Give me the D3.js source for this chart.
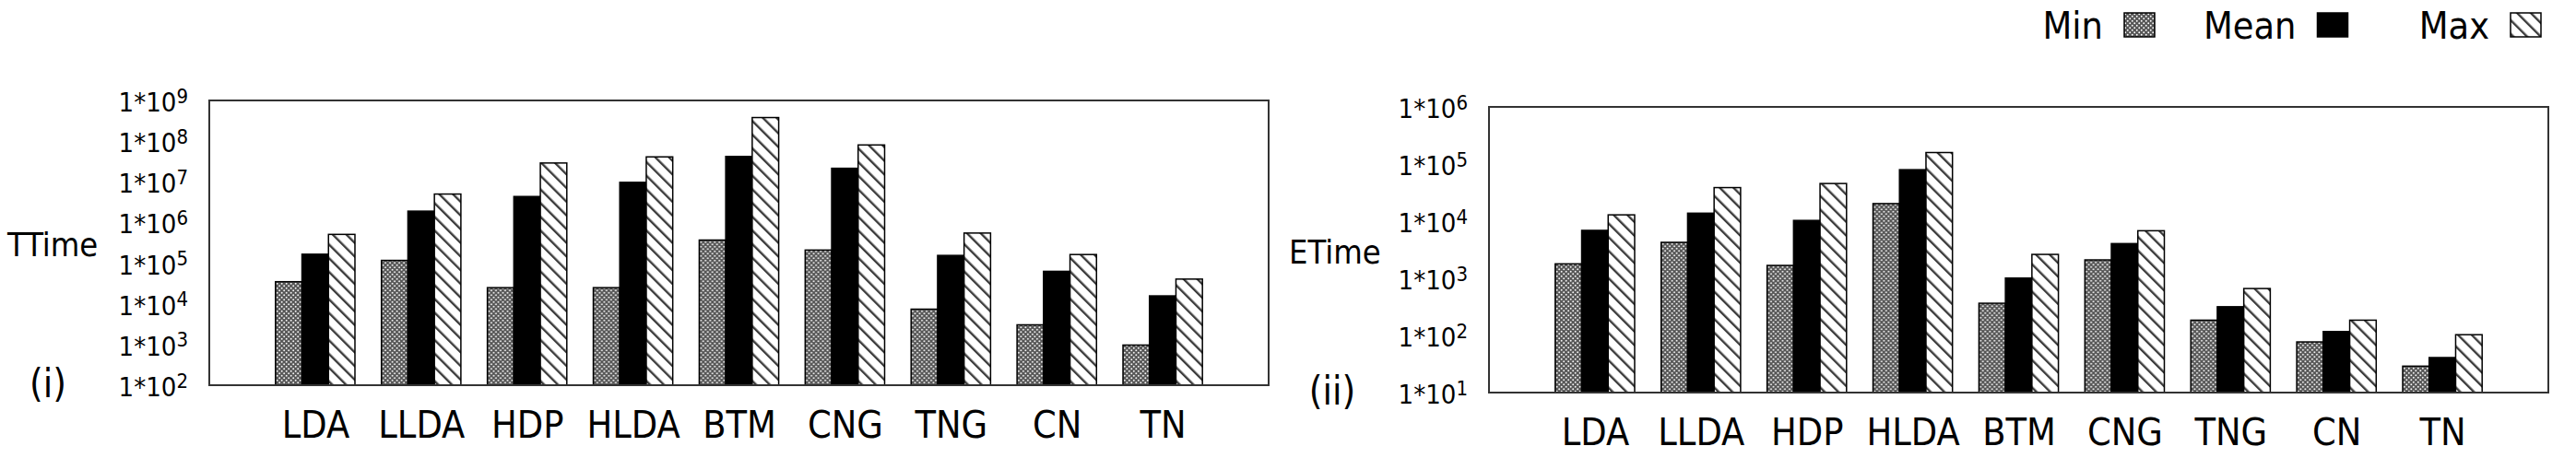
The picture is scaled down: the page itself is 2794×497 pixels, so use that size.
<!DOCTYPE html>
<html>
<head>
<meta charset="utf-8">
<script src="https://cdn.jsdelivr.net/npm/d3@7"></script>
<style>
  html, body { margin: 0; padding: 0; background: #fff; }
  svg { display: block; }
  text { font-family: "DejaVu Sans Condensed", "DejaVu Sans", sans-serif; font-stretch: condensed; fill: #000; }
</style>
</head>
<body>
<script>
// ======================
// DATA
// ======================

const models = ["LDA", "LLDA", "HDP", "HLDA", "BTM", "CNG", "TNG", "CN", "TN"];
const seriesNames = ["Min", "Mean", "Max"];

// (i) training time
const trainMin  = [3.5e4, 1.17e5, 2.5e4, 2.5e4, 3.7e5, 2.1e5, 7.4e3, 3.05e3, 970];
const trainMean = [1.66e5, 1.9e6, 4.35e6, 9.7e6, 4.2e7, 2.15e7, 1.55e5, 6.3e4, 1.57e4];
const trainMax  = [5.1e5, 5.0e6, 2.9e7, 4.1e7, 3.8e8, 8.05e7, 5.5e5, 1.63e5, 4.06e4];
const trainTicks = [1e2, 1e3, 1e4, 1e5, 1e6, 1e7, 1e8, 1e9];

// (ii) evaluation time
const evalMin  = [1790, 4260, 1680, 20300, 366, 2100, 185, 77, 29];
const evalMean = [6900, 13800, 10300, 79600, 1010, 4050, 318, 117, 41];
const evalMax  = [12900, 38700, 45600, 159000, 2620, 6800, 662, 185, 103];
const evalTicks = [1e1, 1e2, 1e3, 1e4, 1e5, 1e6];

// ======================
// SVG + PATTERNS
// ======================

const W = 2794, H = 497;
const svg = d3.select("body").append("svg")
    .attr("width", W)
    .attr("height", H);

svg.append("rect").attr("width", W).attr("height", H).attr("fill", "#fff");

const defs = svg.append("defs");

// stipple for Min: dark grid with offset white dots
const dots = defs.append("pattern")
    .attr("id", "pat-min")
    .attr("patternUnits", "userSpaceOnUse")
    .attr("width", 5)
    .attr("height", 5);
dots.append("rect").attr("width", 5).attr("height", 5).attr("fill", "#555");
dots.append("circle").attr("cx", 1.25).attr("cy", 1.25).attr("r", 0.95).attr("fill", "#fff");
dots.append("circle").attr("cx", 3.75).attr("cy", 3.75).attr("r", 0.95).attr("fill", "#fff");

// "\" hatch for Max
const hatch = defs.append("pattern")
    .attr("id", "pat-max")
    .attr("patternUnits", "userSpaceOnUse")
    .attr("width", 10.5)
    .attr("height", 10.5)
    .attr("patternTransform", "rotate(-45)");
hatch.append("rect").attr("width", 10.5).attr("height", 10.5).attr("fill", "#fff");
hatch.append("line")
    .attr("x1", 5).attr("y1", 0).attr("x2", 5).attr("y2", 10.5)
    .attr("stroke", "#3a3a3a").attr("stroke-width", 2.4);

const fills = { Min: "url(#pat-min)", Mean: "#000", Max: "url(#pat-max)" };

// ======================
// PANEL
// ======================

function drawPanel(cfg) {
    const g = svg.append("g")
        .attr("transform", `translate(${cfg.left},${cfg.top})`);

    const x = d3.scalePoint()
        .domain(models)
        .range([0, cfg.width])
        .padding(1);

    const y = d3.scaleLog()
        .domain([cfg.ticks[0], cfg.ticks[cfg.ticks.length - 1]])
        .range([cfg.height, 0]);

    const bw = x.step() * 0.25;
    const xInner = d3.scaleBand()
        .domain(seriesNames)
        .range([-1.5 * bw, 1.5 * bw]);

    const rows = models.map((m, i) => ({
        model: m,
        values: [
            { key: "Min", value: cfg.min[i] },
            { key: "Mean", value: cfg.mean[i] },
            { key: "Max", value: cfg.max[i] }
        ]
    }));

    const groups = g.selectAll("g.group")
        .data(rows)
        .enter().append("g")
        .attr("class", "group")
        .attr("transform", d => `translate(${x(d.model)},0)`);

    groups.selectAll("rect")
        .data(d => d.values)
        .enter().append("rect")
        .attr("x", d => xInner(d.key))
        .attr("y", d => y(d.value))
        .attr("width", xInner.bandwidth())
        .attr("height", d => cfg.height - y(d.value))
        .attr("fill", d => fills[d.key])
        .attr("stroke", "#000")
        .attr("stroke-width", 1.5);

    // frame
    g.append("rect")
        .attr("width", cfg.width)
        .attr("height", cfg.height)
        .attr("fill", "none")
        .attr("stroke", "#333")
        .attr("stroke-width", 2);

    // y axis: 1*10^n labels
    const yAxisG = g.append("g")
        .call(d3.axisLeft(y).tickValues(cfg.ticks).tickSize(0).tickPadding(23).tickFormat(""))
        .attr("font-size", 29)
        .attr("font-family", null);
    yAxisG.select(".domain").remove();
    yAxisG.selectAll(".tick text")
        .attr("dy", 11.5)
        .each(function (d) {
            const t = d3.select(this);
            t.append("tspan").text("1*10");
            t.append("tspan")
                .attr("dy", -9.5)
                .attr("font-size", 22)
                .text(Math.round(Math.log10(d)));
        });

    // x axis: model names
    const xAxisG = g.append("g")
        .attr("transform", `translate(0,${cfg.height})`)
        .call(d3.axisBottom(x).tickSize(0))
        .attr("font-size", 41)
        .attr("font-family", null);
    xAxisG.select(".domain").remove();
    xAxisG.selectAll(".tick text")
        .attr("y", 57)
        .attr("dy", 0);

    // axis title
    svg.append("text")
        .attr("x", cfg.titleX)
        .attr("y", cfg.titleY)
        .attr("font-size", 36)
        .text(cfg.title);

    // panel tag
    svg.append("text")
        .attr("x", cfg.tagX)
        .attr("y", cfg.tagY)
        .attr("text-anchor", "middle")
        .attr("font-size", 42)
        .text(cfg.tag);
}

drawPanel({
    left: 227, top: 109, width: 1149, height: 309,
    min: trainMin, mean: trainMean, max: trainMax, ticks: trainTicks,
    title: "TTime", titleX: 8, titleY: 278,
    tag: "(i)", tagX: 52, tagY: 431
});

drawPanel({
    left: 1615, top: 116, width: 1149, height: 310,
    min: evalMin, mean: evalMean, max: evalMax, ticks: evalTicks,
    title: "ETime", titleX: 1398, titleY: 286,
    tag: "(ii)", tagX: 1445, tagY: 439
});

// ======================
// LEGEND
// ======================

const legend = svg.append("g").attr("transform", "translate(2304,14)");
const item = legend.selectAll("g")
    .data(seriesNames)
    .enter().append("g")
    .attr("transform", (d, i) => `translate(${i * 209.5},0)`);

item.append("rect")
    .attr("width", 33)
    .attr("height", 26)
    .attr("fill", d => fills[d])
    .attr("stroke", "#000")
    .attr("stroke-width", 1.5);

item.append("text")
    .attr("x", -23)
    .attr("y", 28)
    .attr("text-anchor", "end")
    .attr("font-size", 41)
    .text(d => d);
</script>
</body>
</html>
